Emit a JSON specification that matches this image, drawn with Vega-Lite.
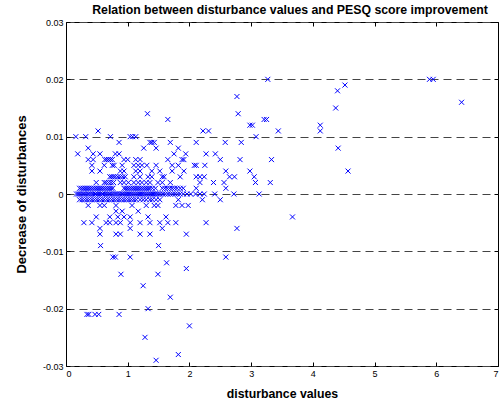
{
"$schema":"https://vega.github.io/schema/vega-lite/v6.json",
"width":432,"height":344,
"autosize":{"type":"none"},
"padding":{"left":66,"top":22,"right":2,"bottom":37},
"title":{"text":"Relation between disturbance values and PESQ score improvement","font":"Liberation Sans","fontSize":12.3,"fontWeight":"bold","color":"#000","offset":2,"dx":8},
"config":{"view":{"stroke":"#000","strokeWidth":1},"font":"Liberation Sans",
 "axis":{"domain":false,"tickColor":"#000","labelColor":"#000","labelFont":"Liberation Sans","labelFontSize":9,"titleFont":"Liberation Sans","titleFontSize":12.3,"titleFontWeight":"bold","titleColor":"#000","tickSize":-4,"grid":false}},
"data":{"values":[
{"x":3.27,"y":0.02},{"x":5.89,"y":0.02},{"x":5.95,"y":0.02},{"x":4.52,"y":0.019},{"x":4.4,"y":0.018},{"x":2.77,"y":0.017},{"x":6.41,"y":0.016},{"x":4.37,"y":0.015},
{"x":1.32,"y":0.014},{"x":2.79,"y":0.014},{"x":1.65,"y":0.013},{"x":3.21,"y":0.013},{"x":3.25,"y":0.013},{"x":2.98,"y":0.012},{"x":3.02,"y":0.012},{"x":4.12,"y":0.012},
{"x":0.52,"y":0.011},{"x":2.22,"y":0.011},{"x":2.31,"y":0.011},{"x":3.44,"y":0.011},{"x":4.12,"y":0.011},
{"x":0.16,"y":0.01},{"x":0.32,"y":0.01},{"x":0.72,"y":0.01},{"x":1.04,"y":0.01},{"x":1.08,"y":0.01},{"x":1.13,"y":0.01},{"x":3.08,"y":0.01},
{"x":0.86,"y":0.009},{"x":1.36,"y":0.009},{"x":1.39,"y":0.009},{"x":1.43,"y":0.009},{"x":1.69,"y":0.009},{"x":2.11,"y":0.009},{"x":2.58,"y":0.009},{"x":2.84,"y":0.009},
{"x":0.36,"y":0.008},{"x":1.26,"y":0.008},{"x":1.46,"y":0.008},{"x":1.82,"y":0.008},{"x":4.41,"y":0.008},
{"x":0.19,"y":0.007},{"x":0.44,"y":0.007},{"x":0.55,"y":0.007},{"x":0.8,"y":0.007},{"x":0.86,"y":0.007},{"x":1.75,"y":0.007},{"x":1.94,"y":0.007},{"x":2.27,"y":0.007},{"x":2.42,"y":0.007},
{"x":0.36,"y":0.006},{"x":0.44,"y":0.006},{"x":0.63,"y":0.006},{"x":0.66,"y":0.006},{"x":0.69,"y":0.006},{"x":0.72,"y":0.006},{"x":0.75,"y":0.006},{"x":0.94,"y":0.006},{"x":1.0,"y":0.006},{"x":1.13,"y":0.006},{"x":1.2,"y":0.006},{"x":1.65,"y":0.006},{"x":1.88,"y":0.006},{"x":1.91,"y":0.006},{"x":2.5,"y":0.006},{"x":2.82,"y":0.006},{"x":3.33,"y":0.006},
{"x":0.42,"y":0.005},{"x":0.62,"y":0.005},{"x":0.75,"y":0.005},{"x":0.78,"y":0.005},{"x":0.91,"y":0.005},{"x":1.1,"y":0.005},{"x":1.17,"y":0.005},{"x":1.23,"y":0.005},{"x":1.31,"y":0.005},{"x":1.46,"y":0.005},{"x":1.72,"y":0.005},{"x":1.82,"y":0.005},{"x":2.08,"y":0.005},{"x":2.11,"y":0.005},{"x":2.25,"y":0.005},
{"x":0.42,"y":0.004},{"x":0.55,"y":0.004},{"x":0.88,"y":0.004},{"x":0.94,"y":0.004},{"x":1.13,"y":0.004},{"x":1.2,"y":0.004},{"x":1.39,"y":0.004},{"x":1.52,"y":0.004},{"x":1.72,"y":0.004},{"x":1.91,"y":0.004},{"x":2.59,"y":0.004},{"x":2.98,"y":0.004},{"x":4.57,"y":0.004},
{"x":0.71,"y":0.003},{"x":0.74,"y":0.003},{"x":0.77,"y":0.003},{"x":0.8,"y":0.003},{"x":0.84,"y":0.003},{"x":0.88,"y":0.003},{"x":0.92,"y":0.003},{"x":0.96,"y":0.003},{"x":1.1,"y":0.003},{"x":1.2,"y":0.003},{"x":1.33,"y":0.003},{"x":1.39,"y":0.003},{"x":1.56,"y":0.003},{"x":1.59,"y":0.003},{"x":1.85,"y":0.003},{"x":2.11,"y":0.003},{"x":2.17,"y":0.003},{"x":2.24,"y":0.003},{"x":2.65,"y":0.003},{"x":2.73,"y":0.003},{"x":3.05,"y":0.003},
{"x":0.49,"y":0.002},{"x":0.62,"y":0.002},{"x":0.65,"y":0.002},{"x":0.69,"y":0.002},{"x":0.73,"y":0.002},{"x":0.77,"y":0.002},{"x":0.88,"y":0.002},{"x":0.94,"y":0.002},{"x":1.01,"y":0.002},{"x":1.1,"y":0.002},{"x":1.17,"y":0.002},{"x":1.23,"y":0.002},{"x":1.3,"y":0.002},{"x":1.36,"y":0.002},{"x":1.49,"y":0.002},{"x":1.56,"y":0.002},{"x":1.69,"y":0.002},{"x":2.17,"y":0.002},{"x":2.39,"y":0.002},{"x":2.56,"y":0.002},{"x":3.07,"y":0.002},{"x":3.31,"y":0.002},
{"x":0.22,"y":0.001},{"x":0.25,"y":0.001},{"x":0.28,"y":0.001},{"x":0.31,"y":0.001},{"x":0.34,"y":0.001},{"x":0.37,"y":0.001},{"x":0.4,"y":0.001},{"x":0.43,"y":0.001},{"x":0.46,"y":0.001},{"x":0.49,"y":0.001},{"x":0.52,"y":0.001},{"x":0.55,"y":0.001},{"x":0.58,"y":0.001},{"x":0.61,"y":0.001},{"x":0.64,"y":0.001},{"x":0.67,"y":0.001},{"x":0.7,"y":0.001},{"x":0.73,"y":0.001},{"x":0.76,"y":0.001},
{"x":0.94,"y":0.001},{"x":0.97,"y":0.001},{"x":1.0,"y":0.001},{"x":1.03,"y":0.001},{"x":1.06,"y":0.001},{"x":1.09,"y":0.001},{"x":1.12,"y":0.001},{"x":1.15,"y":0.001},{"x":1.18,"y":0.001},{"x":1.21,"y":0.001},{"x":1.24,"y":0.001},{"x":1.27,"y":0.001},{"x":1.3,"y":0.001},{"x":1.33,"y":0.001},{"x":1.36,"y":0.001},{"x":1.4,"y":0.001},{"x":1.45,"y":0.001},
{"x":1.56,"y":0.001},{"x":1.6,"y":0.001},{"x":1.64,"y":0.001},{"x":1.68,"y":0.001},{"x":1.72,"y":0.001},{"x":1.76,"y":0.001},{"x":1.8,"y":0.001},{"x":1.85,"y":0.001},{"x":1.9,"y":0.001},{"x":2.11,"y":0.001},{"x":2.59,"y":0.001},
{"x":0.17,"y":0},{"x":0.2,"y":0},{"x":0.22,"y":0},{"x":0.25,"y":0},{"x":0.28,"y":0},{"x":0.3,"y":0},{"x":0.33,"y":0},{"x":0.36,"y":0},{"x":0.38,"y":0},{"x":0.41,"y":0},{"x":0.44,"y":0},{"x":0.47,"y":0},{"x":0.49,"y":0},{"x":0.52,"y":0},{"x":0.55,"y":0},{"x":0.58,"y":0},{"x":0.6,"y":0},{"x":0.63,"y":0},{"x":0.66,"y":0},{"x":0.69,"y":0},{"x":0.71,"y":0},{"x":0.74,"y":0},{"x":0.77,"y":0},{"x":0.8,"y":0},{"x":0.82,"y":0},{"x":0.85,"y":0},{"x":0.88,"y":0},{"x":0.91,"y":0},{"x":0.93,"y":0},{"x":0.96,"y":0},{"x":0.99,"y":0},{"x":1.02,"y":0},{"x":1.05,"y":0},{"x":1.08,"y":0},{"x":1.11,"y":0},{"x":1.14,"y":0},{"x":1.17,"y":0},{"x":1.2,"y":0},{"x":1.23,"y":0},{"x":1.26,"y":0},{"x":1.29,"y":0},{"x":1.32,"y":0},{"x":1.35,"y":0},{"x":1.38,"y":0},{"x":1.41,"y":0},{"x":1.44,"y":0},{"x":1.47,"y":0},{"x":1.5,"y":0},{"x":1.53,"y":0},{"x":1.57,"y":0},{"x":1.61,"y":0},{"x":1.65,"y":0},{"x":1.69,"y":0},{"x":1.73,"y":0},{"x":1.77,"y":0},{"x":1.81,"y":0},{"x":1.85,"y":0},{"x":1.9,"y":0},{"x":1.96,"y":0},{"x":2.02,"y":0},{"x":2.1,"y":0},{"x":2.17,"y":0},{"x":2.24,"y":0},{"x":2.41,"y":0},{"x":2.72,"y":0},{"x":3.13,"y":0},
{"x":0.22,"y":-0.001},{"x":0.26,"y":-0.001},{"x":0.3,"y":-0.001},{"x":0.34,"y":-0.001},{"x":0.38,"y":-0.001},{"x":0.42,"y":-0.001},{"x":0.46,"y":-0.001},{"x":0.5,"y":-0.001},{"x":0.54,"y":-0.001},{"x":0.58,"y":-0.001},{"x":0.62,"y":-0.001},{"x":0.66,"y":-0.001},{"x":0.7,"y":-0.001},{"x":0.74,"y":-0.001},{"x":0.78,"y":-0.001},{"x":0.82,"y":-0.001},{"x":0.86,"y":-0.001},{"x":0.9,"y":-0.001},{"x":0.94,"y":-0.001},{"x":0.98,"y":-0.001},{"x":1.02,"y":-0.001},{"x":1.06,"y":-0.001},{"x":1.1,"y":-0.001},{"x":1.14,"y":-0.001},{"x":1.2,"y":-0.001},{"x":1.25,"y":-0.001},{"x":1.3,"y":-0.001},{"x":1.36,"y":-0.001},{"x":1.4,"y":-0.001},{"x":1.46,"y":-0.001},{"x":1.52,"y":-0.001},{"x":1.82,"y":-0.001},{"x":2.21,"y":-0.001},{"x":2.5,"y":-0.001},
{"x":0.36,"y":-0.002},{"x":0.55,"y":-0.002},{"x":0.62,"y":-0.002},{"x":0.81,"y":-0.002},{"x":1.07,"y":-0.002},{"x":1.3,"y":-0.002},{"x":1.43,"y":-0.002},{"x":1.49,"y":-0.002},{"x":1.78,"y":-0.002},{"x":1.88,"y":-0.002},{"x":1.98,"y":-0.002},
{"x":0.81,"y":-0.003},{"x":0.91,"y":-0.003},{"x":1.17,"y":-0.003},
{"x":0.49,"y":-0.004},{"x":0.71,"y":-0.004},{"x":0.84,"y":-0.004},{"x":0.94,"y":-0.004},{"x":1.04,"y":-0.004},{"x":1.33,"y":-0.004},{"x":1.62,"y":-0.004},{"x":3.67,"y":-0.004},
{"x":0.29,"y":-0.005},{"x":0.42,"y":-0.005},{"x":0.65,"y":-0.005},{"x":0.71,"y":-0.005},{"x":0.81,"y":-0.005},{"x":0.88,"y":-0.005},{"x":1.04,"y":-0.005},{"x":1.2,"y":-0.005},{"x":1.36,"y":-0.005},{"x":1.52,"y":-0.005},{"x":1.65,"y":-0.005},{"x":1.78,"y":-0.005},{"x":2.27,"y":-0.005},
{"x":0.55,"y":-0.006},{"x":1.04,"y":-0.006},{"x":1.56,"y":-0.006},{"x":2.77,"y":-0.006},
{"x":0.55,"y":-0.007},{"x":0.81,"y":-0.007},{"x":0.88,"y":-0.007},{"x":1.2,"y":-0.007},{"x":1.36,"y":-0.007},{"x":1.95,"y":-0.007},
{"x":0.56,"y":-0.009},{"x":1.5,"y":-0.009},
{"x":0.76,"y":-0.011},{"x":0.8,"y":-0.011},{"x":1.04,"y":-0.011},{"x":2.59,"y":-0.011},
{"x":1.63,"y":-0.012},{"x":1.95,"y":-0.013},{"x":0.89,"y":-0.014},{"x":1.49,"y":-0.014},{"x":1.25,"y":-0.016},{"x":1.69,"y":-0.018},{"x":1.33,"y":-0.02},
{"x":0.34,"y":-0.021},{"x":0.37,"y":-0.021},{"x":0.47,"y":-0.021},{"x":0.53,"y":-0.021},{"x":0.86,"y":-0.021},
{"x":2.0,"y":-0.023},{"x":1.28,"y":-0.025},{"x":1.82,"y":-0.028},{"x":1.46,"y":-0.029}
]},
"layer":[
 {"mark":{"type":"point","shape":"M-1,-1L1,1M-1,1L1,-1","filled":false,"color":"#0000ff","size":25,"strokeWidth":1,"opacity":1},
  "encoding":{
   "x":{"field":"x","type":"quantitative","scale":{"domain":[0,7],"nice":false,"zero":false},
        "axis":{"orient":"bottom","values":[0,1,2,3,4,5,6,7],"title":"disturbance values","labelPadding":7,"titlePadding":9}},
   "y":{"field":"y","type":"quantitative","scale":{"domain":[-0.03,0.03],"nice":false,"zero":false},
        "axis":{"orient":"left","values":[-0.03,-0.02,-0.01,0,0.01,0.02,0.03],"title":"Decrease of disturbances","titleFontSize":13,"labelPadding":7,"titlePadding":14,
          "labelExpr":"datum.value == 0 ? '0' : replace(format(datum.value, '.2f'), '\u2212', '-')",
          "grid":true,"gridColor":"#444","gridDash":[8,5],"gridWidth":1}}}},
 {"mark":{"type":"point","opacity":0},
  "encoding":{
   "x":{"field":"x","type":"quantitative","axis":{"orient":"top","values":[0,1,2,3,4,5,6,7],"labels":false,"title":null}},
   "y":{"field":"y","type":"quantitative","axis":{"orient":"right","values":[-0.03,-0.02,-0.01,0,0.01,0.02,0.03],"labels":false,"title":null}}}}
],
"resolve":{"axis":{"x":"independent","y":"independent"}}
}
